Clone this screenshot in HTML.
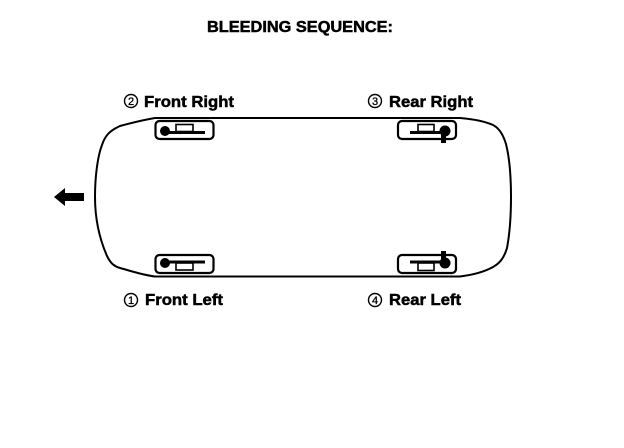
<!DOCTYPE html>
<html>
<head>
<meta charset="utf-8">
<style>
html,body{margin:0;padding:0;background:#fff;}
svg{display:block;}
text{font-family:"Liberation Sans",sans-serif;font-weight:bold;fill:#000;stroke:#000;stroke-width:.5px;}
.n{font-size:11px;font-weight:normal;stroke-width:.3px;}
</style>
</head>
<body>
<svg width="624" height="448" viewBox="0 0 624 448" xmlns="http://www.w3.org/2000/svg">
<rect width="624" height="448" fill="#fff"/>
<text x="207" y="32" font-size="16" textLength="186" lengthAdjust="spacingAndGlyphs">BLEEDING SEQUENCE:</text>

<!-- car body -->
<path d="M155 118 L460 118 C472 119 484 121 493 125 C499 128 503 134 506 144 C510 160 511 180 511 197 C511 215 510 232 507 248 C504 258 500 263 493 267 C484 272 472 275 460 276.5 L155 276.5 C143 275 131 271 120 268 C113 266 110 262 107 256 C100 240 95 220 95 197 C95 175 98 155 102 145 C105 136 109 131 120 126 C131 123 143 120 155 118 Z" fill="none" stroke="#000" stroke-width="2"/>

<!-- arrow -->
<path d="M54 197 L65 188 L65 193 L84 193 L84 201 L65 201 L65 206 Z" fill="#000"/>

<!-- Front Right -->
<rect x="155.5" y="121" width="58" height="18" rx="4" fill="#fff" stroke="#000" stroke-width="2.2"/>
<rect x="176" y="124.5" width="17" height="7" fill="none" stroke="#000" stroke-width="1.6"/>
<rect x="165" y="131" width="40" height="3" fill="#000"/>
<circle cx="165" cy="131" r="5" fill="#000"/>
<text class="n" x="131" y="105" text-anchor="middle">2</text>
<circle cx="131" cy="101" r="6.5" fill="none" stroke="#000" stroke-width="1.4"/>
<text x="144" y="107" font-size="16" textLength="90" lengthAdjust="spacingAndGlyphs">Front Right</text>

<!-- Rear Right -->
<rect x="398" y="121" width="58" height="18" rx="4" fill="#fff" stroke="#000" stroke-width="2.2"/>
<rect x="418" y="124.5" width="16" height="7" fill="none" stroke="#000" stroke-width="1.6"/>
<rect x="410" y="131" width="36" height="3" fill="#000"/>
<circle cx="445" cy="131" r="5.5" fill="#000"/>
<rect x="441" y="131" width="5" height="12" fill="#000"/>
<text class="n" x="375" y="105" text-anchor="middle">3</text>
<circle cx="375" cy="101" r="6.5" fill="none" stroke="#000" stroke-width="1.4"/>
<text x="389" y="107" font-size="16" textLength="84" lengthAdjust="spacingAndGlyphs">Rear Right</text>

<!-- Front Left -->
<rect x="155.5" y="255" width="58" height="18" rx="4" fill="#fff" stroke="#000" stroke-width="2.2"/>
<rect x="176" y="263" width="17" height="7" fill="none" stroke="#000" stroke-width="1.6"/>
<rect x="165" y="260.5" width="40" height="3" fill="#000"/>
<circle cx="165" cy="263" r="5" fill="#000"/>
<text class="n" x="131" y="304" text-anchor="middle">1</text>
<circle cx="131" cy="300" r="6.5" fill="none" stroke="#000" stroke-width="1.4"/>
<text x="145" y="305" font-size="16" textLength="78" lengthAdjust="spacingAndGlyphs">Front Left</text>

<!-- Rear Left -->
<rect x="398" y="255" width="58" height="18" rx="4" fill="#fff" stroke="#000" stroke-width="2.2"/>
<rect x="418" y="263" width="16" height="7.5" fill="none" stroke="#000" stroke-width="1.6"/>
<rect x="410" y="260.5" width="36" height="3" fill="#000"/>
<circle cx="445" cy="263" r="5.5" fill="#000"/>
<rect x="441" y="251" width="5" height="12" fill="#000"/>
<text class="n" x="375" y="304" text-anchor="middle">4</text>
<circle cx="375" cy="300" r="6.5" fill="none" stroke="#000" stroke-width="1.4"/>
<text x="389" y="305" font-size="16" textLength="72" lengthAdjust="spacingAndGlyphs">Rear Left</text>
</svg>
</body>
</html>
